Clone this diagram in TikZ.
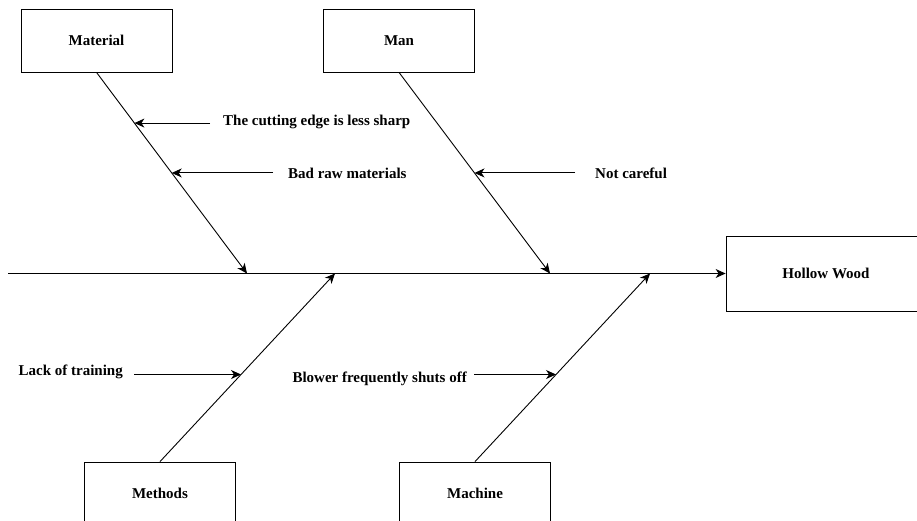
\documentclass[tikz,border=0pt]{standalone}
\usepackage{fontspec}
\setmainfont{Liberation Serif}
\usetikzlibrary{arrows.meta,positioning}

\tikzset{
  catbox/.style={draw, line width=0.8pt, minimum width=151pt, minimum height=63pt,
    inner sep=0pt, font=\fontsize{15}{18}\selectfont\bfseries},
  causelbl/.style={font=\fontsize{15}{18}\selectfont\bfseries, inner sep=0pt},
  bone/.style={line width=0.9pt, -{Stealth[length=10pt,width=9pt,inset=3pt]}},
}

\begin{document}
\begin{tikzpicture}[x=1pt, y=-1pt]
\clip (0,0) rectangle (917,521);
%% categories and effect
\node[catbox] (material) at (96.5,40.5) {Material};
\node[catbox] (man) at (399,40.5) {Man};
\node[catbox] (methods) at (160,493.5) {Methods};
\node[catbox] (machine) at (475,493.5) {Machine};
\node[catbox, minimum width=200pt, minimum height=75pt] (wood) at (826,273.5) {Hollow Wood};
%% spine
\coordinate (tail) at (8,273.5);
\coordinate (jmat) at (247,273.5);
\coordinate (jmet) at (335,273.5);
\coordinate (jman) at (550,273.5);
\coordinate (jmac) at (650,273.5);
\draw[bone] (tail) -- (wood.west);
%% bones, with the points where the causes meet them
\draw[bone] (material.south) -- (jmat)
  coordinate[pos=0.252] (pcut) coordinate[pos=0.5] (praw);
\draw[bone] (man.south) -- (jman) coordinate[pos=0.5] (pcare);
\draw[bone] (methods.north) -- (jmet) coordinate[pos=0.463] (ptrain);
\draw[bone] (machine.north) -- (jmac) coordinate[pos=0.463] (pblow);
%% causes
\node[causelbl, anchor=west] (cut) at (223,122) {The cutting edge is less sharp};
\node[causelbl, anchor=west] (raw) at (288,173) {Bad raw materials};
\node[causelbl, anchor=west] (care) at (595,173) {Not careful};
\node[causelbl, anchor=east] (train) at (123,371.5) {Lack of training};
\node[causelbl, anchor=east] (blow) at (467,379) {Blower frequently shuts off};
\draw[bone, shorten <=13pt] (cut.west |- pcut) -- (pcut);
\draw[bone, shorten <=15pt] (raw.west |- praw) -- (praw);
\draw[bone, shorten <=20pt] (care.west |- pcare) -- (pcare);
\draw[bone, shorten <=11pt] (train.east |- ptrain) -- (ptrain);
\draw[bone, shorten <=7pt] (blow.east |- pblow) -- (pblow);
\end{tikzpicture}
\end{document}
